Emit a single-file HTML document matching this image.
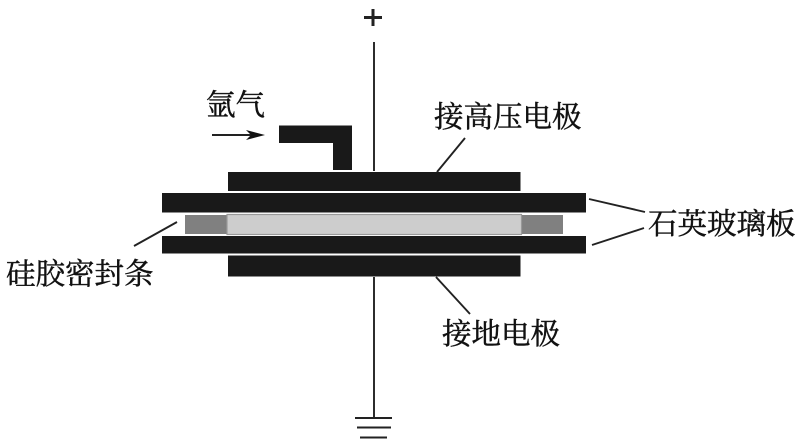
<!DOCTYPE html>
<html><head><meta charset="utf-8"><style>
html,body{margin:0;padding:0;background:#fff}
svg{display:block}
text{font-family:"Liberation Serif","Noto Serif CJK SC",serif;fill:#111;stroke:#111;stroke-width:.45px}
</style></head><body>
<svg width="800" height="447" viewBox="0 0 800 447" xmlns="http://www.w3.org/2000/svg">
<g fill="#191919">
<path d="M279 125.5H352V170H333V143H279Z"/>
<rect x="228" y="172" width="292.5" height="19"/>
<rect x="162" y="193" width="424" height="19.5"/>
<rect x="162" y="236" width="424" height="17.5"/>
<rect x="228" y="255.5" width="292.5" height="21"/>
</g>
<rect x="185" y="215" width="42" height="19" fill="#808080"/>
<rect x="521" y="215" width="42" height="19" fill="#808080"/>
<rect x="227" y="214.5" width="294.5" height="20" fill="#cdcdcd" stroke="#999" stroke-width="1.2"/>
<g stroke="#222" fill="none" stroke-width="1.9">
<path d="M374 42V171M374 277V418"/>
<path d="M355 418H392M357 427.5H391M360 437.5H387" stroke-width="2"/>
<path d="M177 222L134 246M437 172L465 138M589 199L645 212M592 245L644 228M436 277L470 314"/>
<path d="M212 135H258"/>
<path d="M364 17.5H382M373 9V26" stroke-width="3"/>
</g>
<path d="M246 130L265 135L246 140L251 135Z" fill="#111"/>
<text x="206" y="115" font-size="29.5">氩气</text>
<text x="434" y="127" font-size="29.5">接高压电极</text>
<text x="648" y="234" font-size="29.5">石英玻璃板</text>
<text x="6" y="284" font-size="29.5">硅胶密封条</text>
<text x="442" y="344" font-size="29.5">接地电极</text>
</svg>
</body></html>
